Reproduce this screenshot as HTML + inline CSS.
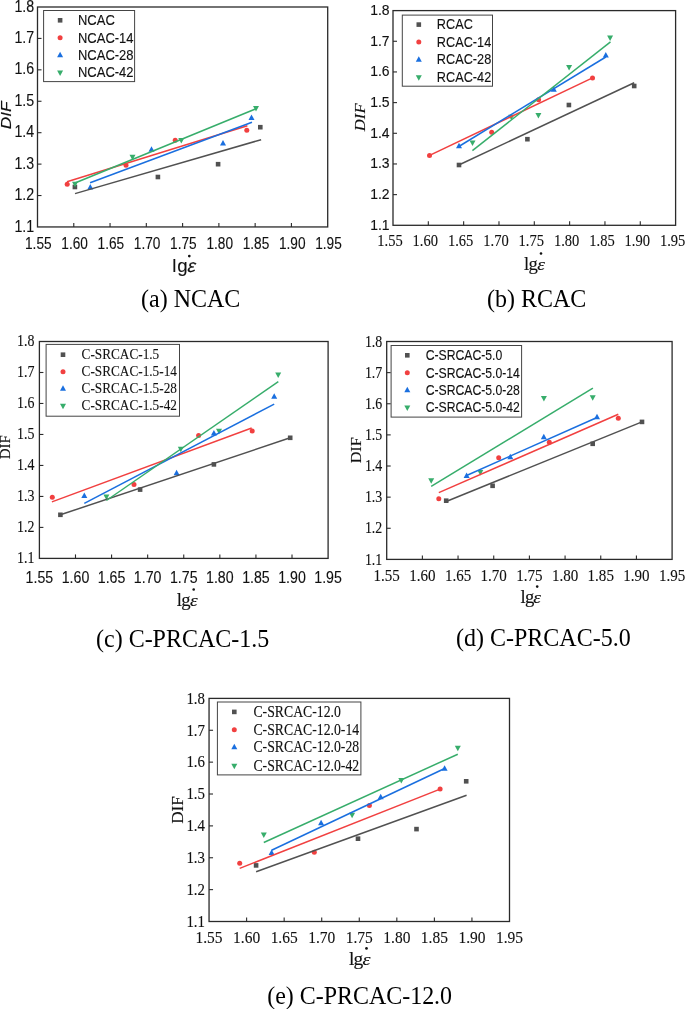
<!DOCTYPE html>
<html><head><meta charset="utf-8"><style>
html,body{margin:0;padding:0;background:#fff;}
svg{display:block;filter:blur(0.3px);}
text{fill:#111;stroke:#111;stroke-width:0.12px;}
text.cap{stroke:none;fill:#000;}
</style></head><body>
<svg width="685" height="1009" viewBox="0 0 685 1009">
<rect width="685" height="1009" fill="#fff"/>
<rect x="72.60" y="184.70" width="4.60" height="4.60" fill="#515151"/>
<rect x="155.60" y="174.70" width="4.60" height="4.60" fill="#515151"/>
<rect x="215.80" y="161.90" width="4.60" height="4.60" fill="#515151"/>
<rect x="258.00" y="124.90" width="4.60" height="4.60" fill="#515151"/>
<circle cx="67.20" cy="184.20" r="2.50" fill="#F14040"/>
<circle cx="126.00" cy="165.20" r="2.50" fill="#F14040"/>
<circle cx="175.20" cy="140.20" r="2.50" fill="#F14040"/>
<circle cx="246.80" cy="130.30" r="2.50" fill="#F14040"/>
<path d="M87.30 189.55L93.30 189.55L90.30 184.05Z" fill="#1A6FDF"/>
<path d="M148.50 151.65L154.50 151.65L151.50 146.15Z" fill="#1A6FDF"/>
<path d="M220.00 145.45L226.00 145.45L223.00 139.95Z" fill="#1A6FDF"/>
<path d="M248.50 119.95L254.50 119.95L251.50 114.45Z" fill="#1A6FDF"/>
<path d="M72.00 181.75L78.00 181.75L75.00 187.25Z" fill="#37AD6B"/>
<path d="M129.50 154.75L135.50 154.75L132.50 160.25Z" fill="#37AD6B"/>
<path d="M178.30 137.95L184.30 137.95L181.30 143.45Z" fill="#37AD6B"/>
<path d="M253.00 106.05L259.00 106.05L256.00 111.55Z" fill="#37AD6B"/>
<line x1="75" y1="193.6" x2="261.1" y2="139.7" stroke="#515151" stroke-width="1.5"/>
<line x1="67" y1="181.7" x2="247.4" y2="125.8" stroke="#F14040" stroke-width="1.5"/>
<line x1="90.1" y1="182.8" x2="252" y2="122.3" stroke="#1A6FDF" stroke-width="1.5"/>
<line x1="75" y1="183" x2="256" y2="108.8" stroke="#37AD6B" stroke-width="1.5"/>
<rect x="37.5" y="7.0" width="290.20" height="219.95" fill="none" stroke="#2a2a2a" stroke-width="1.3"/>
<line x1="73.78" y1="226.95" x2="73.78" y2="222.95" stroke="#2a2a2a" stroke-width="1.1"/>
<line x1="110.05" y1="226.95" x2="110.05" y2="222.95" stroke="#2a2a2a" stroke-width="1.1"/>
<line x1="146.32" y1="226.95" x2="146.32" y2="222.95" stroke="#2a2a2a" stroke-width="1.1"/>
<line x1="182.60" y1="226.95" x2="182.60" y2="222.95" stroke="#2a2a2a" stroke-width="1.1"/>
<line x1="218.88" y1="226.95" x2="218.88" y2="222.95" stroke="#2a2a2a" stroke-width="1.1"/>
<line x1="255.15" y1="226.95" x2="255.15" y2="222.95" stroke="#2a2a2a" stroke-width="1.1"/>
<line x1="291.42" y1="226.95" x2="291.42" y2="222.95" stroke="#2a2a2a" stroke-width="1.1"/>
<line x1="37.5" y1="195.53" x2="41.5" y2="195.53" stroke="#2a2a2a" stroke-width="1.1"/>
<line x1="37.5" y1="164.11" x2="41.5" y2="164.11" stroke="#2a2a2a" stroke-width="1.1"/>
<line x1="37.5" y1="132.69" x2="41.5" y2="132.69" stroke="#2a2a2a" stroke-width="1.1"/>
<line x1="37.5" y1="101.26" x2="41.5" y2="101.26" stroke="#2a2a2a" stroke-width="1.1"/>
<line x1="37.5" y1="69.84" x2="41.5" y2="69.84" stroke="#2a2a2a" stroke-width="1.1"/>
<line x1="37.5" y1="38.42" x2="41.5" y2="38.42" stroke="#2a2a2a" stroke-width="1.1"/>
<text transform="translate(34.20,231.55) scale(0.9,1)" font-family='"Liberation Sans", sans-serif' font-size="15.8" text-anchor="end">1.1</text>
<text transform="translate(34.20,200.13) scale(0.9,1)" font-family='"Liberation Sans", sans-serif' font-size="15.8" text-anchor="end">1.2</text>
<text transform="translate(34.20,168.71) scale(0.9,1)" font-family='"Liberation Sans", sans-serif' font-size="15.8" text-anchor="end">1.3</text>
<text transform="translate(34.20,137.29) scale(0.9,1)" font-family='"Liberation Sans", sans-serif' font-size="15.8" text-anchor="end">1.4</text>
<text transform="translate(34.20,105.86) scale(0.9,1)" font-family='"Liberation Sans", sans-serif' font-size="15.8" text-anchor="end">1.5</text>
<text transform="translate(34.20,74.44) scale(0.9,1)" font-family='"Liberation Sans", sans-serif' font-size="15.8" text-anchor="end">1.6</text>
<text transform="translate(34.20,43.02) scale(0.9,1)" font-family='"Liberation Sans", sans-serif' font-size="15.8" text-anchor="end">1.7</text>
<text transform="translate(34.20,11.60) scale(0.9,1)" font-family='"Liberation Sans", sans-serif' font-size="15.8" text-anchor="end">1.8</text>
<text transform="translate(38.30,249.10) scale(0.855,1)" font-family='"Liberation Sans", sans-serif' font-size="16" text-anchor="middle">1.55</text>
<text transform="translate(74.58,249.10) scale(0.855,1)" font-family='"Liberation Sans", sans-serif' font-size="16" text-anchor="middle">1.60</text>
<text transform="translate(110.85,249.10) scale(0.855,1)" font-family='"Liberation Sans", sans-serif' font-size="16" text-anchor="middle">1.65</text>
<text transform="translate(147.12,249.10) scale(0.855,1)" font-family='"Liberation Sans", sans-serif' font-size="16" text-anchor="middle">1.70</text>
<text transform="translate(183.40,249.10) scale(0.855,1)" font-family='"Liberation Sans", sans-serif' font-size="16" text-anchor="middle">1.75</text>
<text transform="translate(219.68,249.10) scale(0.855,1)" font-family='"Liberation Sans", sans-serif' font-size="16" text-anchor="middle">1.80</text>
<text transform="translate(255.95,249.10) scale(0.855,1)" font-family='"Liberation Sans", sans-serif' font-size="16" text-anchor="middle">1.85</text>
<text transform="translate(292.22,249.10) scale(0.855,1)" font-family='"Liberation Sans", sans-serif' font-size="16" text-anchor="middle">1.90</text>
<text transform="translate(328.50,249.10) scale(0.855,1)" font-family='"Liberation Sans", sans-serif' font-size="16" text-anchor="middle">1.95</text>
<rect x="43.6" y="10.5" width="91.00" height="71.10" fill="#fff" stroke="#444" stroke-width="1"/>
<rect x="57.80" y="18.00" width="4.60" height="4.60" fill="#515151"/>
<text transform="translate(78.00,25.00) scale(0.877,1)" font-family='"Liberation Sans", sans-serif' font-size="14.8" text-anchor="start">NCAC</text>
<circle cx="60.10" cy="37.80" r="2.50" fill="#F14040"/>
<text transform="translate(78.00,42.50) scale(0.877,1)" font-family='"Liberation Sans", sans-serif' font-size="14.8" text-anchor="start">NCAC-14</text>
<path d="M57.10 57.35L63.10 57.35L60.10 51.85Z" fill="#1A6FDF"/>
<text transform="translate(78.00,59.80) scale(0.877,1)" font-family='"Liberation Sans", sans-serif' font-size="14.8" text-anchor="start">NCAC-28</text>
<path d="M57.10 70.45L63.10 70.45L60.10 75.95Z" fill="#37AD6B"/>
<text transform="translate(78.00,77.10) scale(0.877,1)" font-family='"Liberation Sans", sans-serif' font-size="14.8" text-anchor="start">NCAC-42</text>
<text transform="translate(11.1,115.4) rotate(-90) scale(1.15,1)" font-family='"Liberation Sans", sans-serif' font-size="15" text-anchor="middle" font-style="italic">DIF</text>
<text transform="translate(172.2,271.6) scale(1,1)" font-family='"Liberation Sans", sans-serif' font-size="18.6" letter-spacing="1.0">lg</text>
<text transform="translate(186.5,271.6) skewX(-14) scale(1.05,1)" font-family='"Liberation Sans", sans-serif' font-size="18.2" font-style="normal">&#949;</text>
<circle cx="189.3" cy="256.1" r="1.35" fill="#111"/>
<text transform="translate(141.00,306.60) scale(0.96,1)" font-family='"Liberation Serif", serif' font-size="25" text-anchor="start" class="cap">(a) NCAC</text>
<rect x="456.70" y="162.70" width="4.60" height="4.60" fill="#515151"/>
<rect x="525.10" y="136.90" width="4.60" height="4.60" fill="#515151"/>
<rect x="566.60" y="102.70" width="4.60" height="4.60" fill="#515151"/>
<rect x="631.90" y="83.70" width="4.60" height="4.60" fill="#515151"/>
<circle cx="429.50" cy="155.40" r="2.50" fill="#F14040"/>
<circle cx="491.70" cy="132.20" r="2.50" fill="#F14040"/>
<circle cx="538.60" cy="99.80" r="2.50" fill="#F14040"/>
<circle cx="592.50" cy="77.90" r="2.50" fill="#F14040"/>
<path d="M456.00 148.35L462.00 148.35L459.00 142.85Z" fill="#1A6FDF"/>
<path d="M550.80 91.75L556.80 91.75L553.80 86.25Z" fill="#1A6FDF"/>
<path d="M602.80 57.55L608.80 57.55L605.80 52.05Z" fill="#1A6FDF"/>
<path d="M469.50 140.55L475.50 140.55L472.50 146.05Z" fill="#37AD6B"/>
<path d="M508.30 114.75L514.30 114.75L511.30 120.25Z" fill="#37AD6B"/>
<path d="M535.40 112.95L541.40 112.95L538.40 118.45Z" fill="#37AD6B"/>
<path d="M566.10 65.05L572.10 65.05L569.10 70.55Z" fill="#37AD6B"/>
<path d="M607.10 35.55L613.10 35.55L610.10 41.05Z" fill="#37AD6B"/>
<line x1="458.8" y1="165" x2="634.2" y2="82.8" stroke="#515151" stroke-width="1.5"/>
<line x1="429.6" y1="155.4" x2="592.5" y2="77.9" stroke="#F14040" stroke-width="1.5"/>
<line x1="458.8" y1="146.5" x2="605.8" y2="57" stroke="#1A6FDF" stroke-width="1.5"/>
<line x1="472.4" y1="150.6" x2="610.5" y2="41.9" stroke="#37AD6B" stroke-width="1.5"/>
<rect x="393.0" y="10.6" width="282.60" height="214.70" fill="none" stroke="#2a2a2a" stroke-width="1.3"/>
<line x1="428.32" y1="225.3" x2="428.32" y2="221.3" stroke="#2a2a2a" stroke-width="1.1"/>
<line x1="463.65" y1="225.3" x2="463.65" y2="221.3" stroke="#2a2a2a" stroke-width="1.1"/>
<line x1="498.98" y1="225.3" x2="498.98" y2="221.3" stroke="#2a2a2a" stroke-width="1.1"/>
<line x1="534.30" y1="225.3" x2="534.30" y2="221.3" stroke="#2a2a2a" stroke-width="1.1"/>
<line x1="569.62" y1="225.3" x2="569.62" y2="221.3" stroke="#2a2a2a" stroke-width="1.1"/>
<line x1="604.95" y1="225.3" x2="604.95" y2="221.3" stroke="#2a2a2a" stroke-width="1.1"/>
<line x1="640.28" y1="225.3" x2="640.28" y2="221.3" stroke="#2a2a2a" stroke-width="1.1"/>
<line x1="393.0" y1="194.63" x2="397.0" y2="194.63" stroke="#2a2a2a" stroke-width="1.1"/>
<line x1="393.0" y1="163.96" x2="397.0" y2="163.96" stroke="#2a2a2a" stroke-width="1.1"/>
<line x1="393.0" y1="133.29" x2="397.0" y2="133.29" stroke="#2a2a2a" stroke-width="1.1"/>
<line x1="393.0" y1="102.61" x2="397.0" y2="102.61" stroke="#2a2a2a" stroke-width="1.1"/>
<line x1="393.0" y1="71.94" x2="397.0" y2="71.94" stroke="#2a2a2a" stroke-width="1.1"/>
<line x1="393.0" y1="41.27" x2="397.0" y2="41.27" stroke="#2a2a2a" stroke-width="1.1"/>
<text transform="translate(389.60,229.80) scale(0.9,1)" font-family='"Liberation Sans", sans-serif' font-size="15.5" text-anchor="end">1.1</text>
<text transform="translate(389.60,199.13) scale(0.9,1)" font-family='"Liberation Sans", sans-serif' font-size="15.5" text-anchor="end">1.2</text>
<text transform="translate(389.60,168.46) scale(0.9,1)" font-family='"Liberation Sans", sans-serif' font-size="15.5" text-anchor="end">1.3</text>
<text transform="translate(389.60,137.79) scale(0.9,1)" font-family='"Liberation Sans", sans-serif' font-size="15.5" text-anchor="end">1.4</text>
<text transform="translate(389.60,107.11) scale(0.9,1)" font-family='"Liberation Sans", sans-serif' font-size="15.5" text-anchor="end">1.5</text>
<text transform="translate(389.60,76.44) scale(0.9,1)" font-family='"Liberation Sans", sans-serif' font-size="15.5" text-anchor="end">1.6</text>
<text transform="translate(389.60,45.77) scale(0.9,1)" font-family='"Liberation Sans", sans-serif' font-size="15.5" text-anchor="end">1.7</text>
<text transform="translate(389.60,15.10) scale(0.9,1)" font-family='"Liberation Sans", sans-serif' font-size="15.5" text-anchor="end">1.8</text>
<text transform="translate(390.00,245.90) scale(0.86,1)" font-family='"Liberation Serif", serif' font-size="16.9" text-anchor="middle">1.55</text>
<text transform="translate(425.32,245.90) scale(0.86,1)" font-family='"Liberation Serif", serif' font-size="16.9" text-anchor="middle">1.60</text>
<text transform="translate(460.65,245.90) scale(0.86,1)" font-family='"Liberation Serif", serif' font-size="16.9" text-anchor="middle">1.65</text>
<text transform="translate(495.98,245.90) scale(0.86,1)" font-family='"Liberation Serif", serif' font-size="16.9" text-anchor="middle">1.70</text>
<text transform="translate(531.30,245.90) scale(0.86,1)" font-family='"Liberation Serif", serif' font-size="16.9" text-anchor="middle">1.75</text>
<text transform="translate(566.62,245.90) scale(0.86,1)" font-family='"Liberation Serif", serif' font-size="16.9" text-anchor="middle">1.80</text>
<text transform="translate(601.95,245.90) scale(0.86,1)" font-family='"Liberation Serif", serif' font-size="16.9" text-anchor="middle">1.85</text>
<text transform="translate(637.28,245.90) scale(0.86,1)" font-family='"Liberation Serif", serif' font-size="16.9" text-anchor="middle">1.90</text>
<text transform="translate(672.60,245.90) scale(0.86,1)" font-family='"Liberation Serif", serif' font-size="16.9" text-anchor="middle">1.95</text>
<rect x="402.3" y="15.1" width="90.20" height="71.10" fill="#fff" stroke="#444" stroke-width="1"/>
<rect x="416.50" y="22.30" width="4.60" height="4.60" fill="#515151"/>
<text transform="translate(436.80,29.30) scale(0.86,1)" font-family='"Liberation Sans", sans-serif' font-size="14.8" text-anchor="start">RCAC</text>
<circle cx="418.80" cy="42.10" r="2.50" fill="#F14040"/>
<text transform="translate(436.80,46.80) scale(0.86,1)" font-family='"Liberation Sans", sans-serif' font-size="14.8" text-anchor="start">RCAC-14</text>
<path d="M415.80 61.85L421.80 61.85L418.80 56.35Z" fill="#1A6FDF"/>
<text transform="translate(436.80,64.30) scale(0.86,1)" font-family='"Liberation Sans", sans-serif' font-size="14.8" text-anchor="start">RCAC-28</text>
<path d="M415.80 75.25L421.80 75.25L418.80 80.75Z" fill="#37AD6B"/>
<text transform="translate(436.80,81.90) scale(0.86,1)" font-family='"Liberation Sans", sans-serif' font-size="14.8" text-anchor="start">RCAC-42</text>
<text transform="translate(365.0,117.3) rotate(-90) scale(1.11,1)" font-family='"Liberation Serif", serif' font-size="15" text-anchor="middle" font-style="italic">DIF</text>
<text transform="translate(524.1,270.4) scale(1,1)" font-family='"Liberation Serif", serif' font-size="18.7" letter-spacing="-0.7">lg</text>
<text transform="translate(537.3,270.4) skewX(0) scale(1.2,1)" font-family='"Liberation Serif", serif' font-size="16.3" font-style="italic">&#949;</text>
<circle cx="541.0" cy="253.5" r="1.3" fill="#111"/>
<text transform="translate(487.00,306.70) scale(0.96,1)" font-family='"Liberation Serif", serif' font-size="25" text-anchor="start" class="cap">(b) RCAC</text>
<rect x="58.10" y="512.50" width="4.60" height="4.60" fill="#515151"/>
<rect x="137.80" y="487.30" width="4.60" height="4.60" fill="#515151"/>
<rect x="211.60" y="462.10" width="4.60" height="4.60" fill="#515151"/>
<rect x="287.90" y="435.50" width="4.60" height="4.60" fill="#515151"/>
<circle cx="52.30" cy="497.20" r="2.50" fill="#F14040"/>
<circle cx="134.00" cy="484.50" r="2.50" fill="#F14040"/>
<circle cx="198.60" cy="435.60" r="2.50" fill="#F14040"/>
<circle cx="252.20" cy="431.10" r="2.50" fill="#F14040"/>
<path d="M81.30 497.95L87.30 497.95L84.30 492.45Z" fill="#1A6FDF"/>
<path d="M173.60 475.35L179.60 475.35L176.60 469.85Z" fill="#1A6FDF"/>
<path d="M210.90 435.45L216.90 435.45L213.90 429.95Z" fill="#1A6FDF"/>
<path d="M271.20 398.65L277.20 398.65L274.20 393.15Z" fill="#1A6FDF"/>
<path d="M103.40 494.45L109.40 494.45L106.40 499.95Z" fill="#37AD6B"/>
<path d="M177.80 446.75L183.80 446.75L180.80 452.25Z" fill="#37AD6B"/>
<path d="M216.00 428.75L222.00 428.75L219.00 434.25Z" fill="#37AD6B"/>
<path d="M275.20 372.45L281.20 372.45L278.20 377.95Z" fill="#37AD6B"/>
<line x1="60.4" y1="514.8" x2="290.2" y2="437.8" stroke="#515151" stroke-width="1.5"/>
<line x1="51.9" y1="501.9" x2="251.7" y2="428" stroke="#F14040" stroke-width="1.5"/>
<line x1="84.3" y1="503.3" x2="274.2" y2="404.1" stroke="#1A6FDF" stroke-width="1.5"/>
<line x1="106.4" y1="500.5" x2="278.3" y2="381.6" stroke="#37AD6B" stroke-width="1.5"/>
<rect x="39.4" y="341.5" width="288.70" height="216.90" fill="none" stroke="#2a2a2a" stroke-width="1.3"/>
<line x1="75.49" y1="558.4" x2="75.49" y2="554.4" stroke="#2a2a2a" stroke-width="1.1"/>
<line x1="111.58" y1="558.4" x2="111.58" y2="554.4" stroke="#2a2a2a" stroke-width="1.1"/>
<line x1="147.66" y1="558.4" x2="147.66" y2="554.4" stroke="#2a2a2a" stroke-width="1.1"/>
<line x1="183.75" y1="558.4" x2="183.75" y2="554.4" stroke="#2a2a2a" stroke-width="1.1"/>
<line x1="219.84" y1="558.4" x2="219.84" y2="554.4" stroke="#2a2a2a" stroke-width="1.1"/>
<line x1="255.93" y1="558.4" x2="255.93" y2="554.4" stroke="#2a2a2a" stroke-width="1.1"/>
<line x1="292.01" y1="558.4" x2="292.01" y2="554.4" stroke="#2a2a2a" stroke-width="1.1"/>
<line x1="39.4" y1="527.41" x2="43.4" y2="527.41" stroke="#2a2a2a" stroke-width="1.1"/>
<line x1="39.4" y1="496.43" x2="43.4" y2="496.43" stroke="#2a2a2a" stroke-width="1.1"/>
<line x1="39.4" y1="465.44" x2="43.4" y2="465.44" stroke="#2a2a2a" stroke-width="1.1"/>
<line x1="39.4" y1="434.46" x2="43.4" y2="434.46" stroke="#2a2a2a" stroke-width="1.1"/>
<line x1="39.4" y1="403.47" x2="43.4" y2="403.47" stroke="#2a2a2a" stroke-width="1.1"/>
<line x1="39.4" y1="372.49" x2="43.4" y2="372.49" stroke="#2a2a2a" stroke-width="1.1"/>
<text transform="translate(34.50,563.10) scale(0.86,1)" font-family='"Liberation Serif", serif' font-size="16.2" text-anchor="end">1.1</text>
<text transform="translate(34.50,532.11) scale(0.86,1)" font-family='"Liberation Serif", serif' font-size="16.2" text-anchor="end">1.2</text>
<text transform="translate(34.50,501.13) scale(0.86,1)" font-family='"Liberation Serif", serif' font-size="16.2" text-anchor="end">1.3</text>
<text transform="translate(34.50,470.14) scale(0.86,1)" font-family='"Liberation Serif", serif' font-size="16.2" text-anchor="end">1.4</text>
<text transform="translate(34.50,439.16) scale(0.86,1)" font-family='"Liberation Serif", serif' font-size="16.2" text-anchor="end">1.5</text>
<text transform="translate(34.50,408.17) scale(0.86,1)" font-family='"Liberation Serif", serif' font-size="16.2" text-anchor="end">1.6</text>
<text transform="translate(34.50,377.19) scale(0.86,1)" font-family='"Liberation Serif", serif' font-size="16.2" text-anchor="end">1.7</text>
<text transform="translate(34.50,346.20) scale(0.86,1)" font-family='"Liberation Serif", serif' font-size="16.2" text-anchor="end">1.8</text>
<text transform="translate(39.40,582.60) scale(0.86,1)" font-family='"Liberation Sans", sans-serif' font-size="16.5" text-anchor="middle">1.55</text>
<text transform="translate(75.49,582.60) scale(0.86,1)" font-family='"Liberation Sans", sans-serif' font-size="16.5" text-anchor="middle">1.60</text>
<text transform="translate(111.58,582.60) scale(0.86,1)" font-family='"Liberation Sans", sans-serif' font-size="16.5" text-anchor="middle">1.65</text>
<text transform="translate(147.66,582.60) scale(0.86,1)" font-family='"Liberation Sans", sans-serif' font-size="16.5" text-anchor="middle">1.70</text>
<text transform="translate(183.75,582.60) scale(0.86,1)" font-family='"Liberation Sans", sans-serif' font-size="16.5" text-anchor="middle">1.75</text>
<text transform="translate(219.84,582.60) scale(0.86,1)" font-family='"Liberation Sans", sans-serif' font-size="16.5" text-anchor="middle">1.80</text>
<text transform="translate(255.93,582.60) scale(0.86,1)" font-family='"Liberation Sans", sans-serif' font-size="16.5" text-anchor="middle">1.85</text>
<text transform="translate(292.01,582.60) scale(0.86,1)" font-family='"Liberation Sans", sans-serif' font-size="16.5" text-anchor="middle">1.90</text>
<text transform="translate(328.10,582.60) scale(0.86,1)" font-family='"Liberation Sans", sans-serif' font-size="16.5" text-anchor="middle">1.95</text>
<rect x="46.1" y="344.4" width="133.40" height="71.80" fill="#fff" stroke="#444" stroke-width="1"/>
<rect x="60.70" y="352.40" width="4.60" height="4.60" fill="#515151"/>
<text transform="translate(81.60,359.30) scale(0.86,1)" font-family='"Liberation Serif", serif' font-size="15.4" text-anchor="start">C-SRCAC-1.5</text>
<circle cx="63.00" cy="371.70" r="2.50" fill="#F14040"/>
<text transform="translate(81.60,376.30) scale(0.86,1)" font-family='"Liberation Serif", serif' font-size="15.4" text-anchor="start">C-SRCAC-1.5-14</text>
<path d="M60.00 390.85L66.00 390.85L63.00 385.35Z" fill="#1A6FDF"/>
<text transform="translate(81.60,393.20) scale(0.86,1)" font-family='"Liberation Serif", serif' font-size="15.4" text-anchor="start">C-SRCAC-1.5-28</text>
<path d="M60.00 403.75L66.00 403.75L63.00 409.25Z" fill="#37AD6B"/>
<text transform="translate(81.60,410.30) scale(0.86,1)" font-family='"Liberation Serif", serif' font-size="15.4" text-anchor="start">C-SRCAC-1.5-42</text>
<text transform="translate(9.5,447.2) rotate(-90) scale(1.0,1)" font-family='"Liberation Serif", serif' font-size="15" text-anchor="middle">DIF</text>
<text transform="translate(176.8,606.2) scale(1,1)" font-family='"Liberation Serif", serif' font-size="18.7" letter-spacing="-0.7">lg</text>
<text transform="translate(189.9,606.2) skewX(0) scale(1.2,1)" font-family='"Liberation Serif", serif' font-size="16.3" font-style="italic">&#949;</text>
<circle cx="193.7" cy="589.5" r="1.3" fill="#111"/>
<text transform="translate(96.00,646.70) scale(0.96,1)" font-family='"Liberation Serif", serif' font-size="25" text-anchor="start" class="cap">(c) C-PRCAC-1.5</text>
<rect x="443.90" y="498.40" width="4.60" height="4.60" fill="#515151"/>
<rect x="490.30" y="483.50" width="4.60" height="4.60" fill="#515151"/>
<rect x="590.40" y="441.50" width="4.60" height="4.60" fill="#515151"/>
<rect x="639.70" y="419.60" width="4.60" height="4.60" fill="#515151"/>
<circle cx="438.80" cy="498.70" r="2.50" fill="#F14040"/>
<circle cx="498.70" cy="457.80" r="2.50" fill="#F14040"/>
<circle cx="549.30" cy="442.20" r="2.50" fill="#F14040"/>
<circle cx="618.30" cy="418.20" r="2.50" fill="#F14040"/>
<path d="M463.60 477.95L469.60 477.95L466.60 472.45Z" fill="#1A6FDF"/>
<path d="M507.30 459.15L513.30 459.15L510.30 453.65Z" fill="#1A6FDF"/>
<path d="M540.80 439.25L546.80 439.25L543.80 433.75Z" fill="#1A6FDF"/>
<path d="M594.00 419.15L600.00 419.15L597.00 413.65Z" fill="#1A6FDF"/>
<path d="M428.20 478.15L434.20 478.15L431.20 483.65Z" fill="#37AD6B"/>
<path d="M477.30 469.95L483.30 469.95L480.30 475.45Z" fill="#37AD6B"/>
<path d="M540.90 396.05L546.90 396.05L543.90 401.55Z" fill="#37AD6B"/>
<path d="M589.70 395.25L595.70 395.25L592.70 400.75Z" fill="#37AD6B"/>
<line x1="446.2" y1="501.5" x2="642" y2="421.9" stroke="#515151" stroke-width="1.5"/>
<line x1="438.8" y1="492.6" x2="618.3" y2="414.3" stroke="#F14040" stroke-width="1.5"/>
<line x1="466.6" y1="475.5" x2="597" y2="417.5" stroke="#1A6FDF" stroke-width="1.5"/>
<line x1="431.2" y1="486.4" x2="592.9" y2="388.2" stroke="#37AD6B" stroke-width="1.5"/>
<rect x="386.7" y="341.5" width="285.40" height="217.90" fill="none" stroke="#2a2a2a" stroke-width="1.3"/>
<line x1="422.38" y1="559.4" x2="422.38" y2="555.4" stroke="#2a2a2a" stroke-width="1.1"/>
<line x1="458.05" y1="559.4" x2="458.05" y2="555.4" stroke="#2a2a2a" stroke-width="1.1"/>
<line x1="493.73" y1="559.4" x2="493.73" y2="555.4" stroke="#2a2a2a" stroke-width="1.1"/>
<line x1="529.40" y1="559.4" x2="529.40" y2="555.4" stroke="#2a2a2a" stroke-width="1.1"/>
<line x1="565.08" y1="559.4" x2="565.08" y2="555.4" stroke="#2a2a2a" stroke-width="1.1"/>
<line x1="600.75" y1="559.4" x2="600.75" y2="555.4" stroke="#2a2a2a" stroke-width="1.1"/>
<line x1="636.42" y1="559.4" x2="636.42" y2="555.4" stroke="#2a2a2a" stroke-width="1.1"/>
<line x1="386.7" y1="528.27" x2="390.7" y2="528.27" stroke="#2a2a2a" stroke-width="1.1"/>
<line x1="386.7" y1="497.14" x2="390.7" y2="497.14" stroke="#2a2a2a" stroke-width="1.1"/>
<line x1="386.7" y1="466.01" x2="390.7" y2="466.01" stroke="#2a2a2a" stroke-width="1.1"/>
<line x1="386.7" y1="434.89" x2="390.7" y2="434.89" stroke="#2a2a2a" stroke-width="1.1"/>
<line x1="386.7" y1="403.76" x2="390.7" y2="403.76" stroke="#2a2a2a" stroke-width="1.1"/>
<line x1="386.7" y1="372.63" x2="390.7" y2="372.63" stroke="#2a2a2a" stroke-width="1.1"/>
<text transform="translate(382.30,564.60) scale(0.86,1)" font-family='"Liberation Serif", serif' font-size="16.2" text-anchor="end">1.1</text>
<text transform="translate(382.30,533.47) scale(0.86,1)" font-family='"Liberation Serif", serif' font-size="16.2" text-anchor="end">1.2</text>
<text transform="translate(382.30,502.34) scale(0.86,1)" font-family='"Liberation Serif", serif' font-size="16.2" text-anchor="end">1.3</text>
<text transform="translate(382.30,471.21) scale(0.86,1)" font-family='"Liberation Serif", serif' font-size="16.2" text-anchor="end">1.4</text>
<text transform="translate(382.30,440.09) scale(0.86,1)" font-family='"Liberation Serif", serif' font-size="16.2" text-anchor="end">1.5</text>
<text transform="translate(382.30,408.96) scale(0.86,1)" font-family='"Liberation Serif", serif' font-size="16.2" text-anchor="end">1.6</text>
<text transform="translate(382.30,377.83) scale(0.86,1)" font-family='"Liberation Serif", serif' font-size="16.2" text-anchor="end">1.7</text>
<text transform="translate(382.30,346.70) scale(0.86,1)" font-family='"Liberation Serif", serif' font-size="16.2" text-anchor="end">1.8</text>
<text transform="translate(386.70,581.00) scale(0.885,1)" font-family='"Liberation Serif", serif' font-size="17" text-anchor="middle">1.55</text>
<text transform="translate(422.38,581.00) scale(0.885,1)" font-family='"Liberation Serif", serif' font-size="17" text-anchor="middle">1.60</text>
<text transform="translate(458.05,581.00) scale(0.885,1)" font-family='"Liberation Serif", serif' font-size="17" text-anchor="middle">1.65</text>
<text transform="translate(493.73,581.00) scale(0.885,1)" font-family='"Liberation Serif", serif' font-size="17" text-anchor="middle">1.70</text>
<text transform="translate(529.40,581.00) scale(0.885,1)" font-family='"Liberation Serif", serif' font-size="17" text-anchor="middle">1.75</text>
<text transform="translate(565.08,581.00) scale(0.885,1)" font-family='"Liberation Serif", serif' font-size="17" text-anchor="middle">1.80</text>
<text transform="translate(600.75,581.00) scale(0.885,1)" font-family='"Liberation Serif", serif' font-size="17" text-anchor="middle">1.85</text>
<text transform="translate(636.42,581.00) scale(0.885,1)" font-family='"Liberation Serif", serif' font-size="17" text-anchor="middle">1.90</text>
<text transform="translate(672.10,581.00) scale(0.885,1)" font-family='"Liberation Serif", serif' font-size="17" text-anchor="middle">1.95</text>
<rect x="391.1" y="345.5" width="130.50" height="71.60" fill="#fff" stroke="#444" stroke-width="1"/>
<rect x="405.00" y="353.00" width="4.60" height="4.60" fill="#515151"/>
<text transform="translate(425.70,360.00) scale(0.825,1)" font-family='"Liberation Sans", sans-serif' font-size="14.8" text-anchor="start">C-SRCAC-5.0</text>
<circle cx="407.30" cy="372.80" r="2.50" fill="#F14040"/>
<text transform="translate(425.70,377.50) scale(0.825,1)" font-family='"Liberation Sans", sans-serif' font-size="14.8" text-anchor="start">C-SRCAC-5.0-14</text>
<path d="M404.30 392.15L410.30 392.15L407.30 386.65Z" fill="#1A6FDF"/>
<text transform="translate(425.70,394.60) scale(0.825,1)" font-family='"Liberation Sans", sans-serif' font-size="14.8" text-anchor="start">C-SRCAC-5.0-28</text>
<path d="M404.30 405.45L410.30 405.45L407.30 410.95Z" fill="#37AD6B"/>
<text transform="translate(425.70,412.10) scale(0.825,1)" font-family='"Liberation Sans", sans-serif' font-size="14.8" text-anchor="start">C-SRCAC-5.0-42</text>
<text transform="translate(361.4,450.3) rotate(-90) scale(1.08,1)" font-family='"Liberation Serif", serif' font-size="15" text-anchor="middle">DIF</text>
<text transform="translate(520.6,603.3) scale(1,1)" font-family='"Liberation Serif", serif' font-size="18.7" letter-spacing="-0.7">lg</text>
<text transform="translate(533.3,603.3) skewX(0) scale(1.2,1)" font-family='"Liberation Serif", serif' font-size="16.3" font-style="italic">&#949;</text>
<circle cx="537.2" cy="586.6" r="1.3" fill="#111"/>
<text transform="translate(456.00,646.40) scale(0.96,1)" font-family='"Liberation Serif", serif' font-size="25" text-anchor="start" class="cap">(d) C-PRCAC-5.0</text>
<rect x="253.80" y="863.10" width="4.60" height="4.60" fill="#515151"/>
<rect x="355.70" y="836.40" width="4.60" height="4.60" fill="#515151"/>
<rect x="414.20" y="826.80" width="4.60" height="4.60" fill="#515151"/>
<rect x="463.90" y="779.00" width="4.60" height="4.60" fill="#515151"/>
<circle cx="239.70" cy="863.30" r="2.50" fill="#F14040"/>
<circle cx="314.30" cy="852.30" r="2.50" fill="#F14040"/>
<circle cx="369.40" cy="805.40" r="2.50" fill="#F14040"/>
<circle cx="440.10" cy="789.10" r="2.50" fill="#F14040"/>
<path d="M268.60 855.05L274.60 855.05L271.60 849.55Z" fill="#1A6FDF"/>
<path d="M318.10 825.25L324.10 825.25L321.10 819.75Z" fill="#1A6FDF"/>
<path d="M377.70 799.15L383.70 799.15L380.70 793.65Z" fill="#1A6FDF"/>
<path d="M441.60 770.65L447.60 770.65L444.60 765.15Z" fill="#1A6FDF"/>
<path d="M260.80 832.55L266.80 832.55L263.80 838.05Z" fill="#37AD6B"/>
<path d="M349.10 812.85L355.10 812.85L352.10 818.35Z" fill="#37AD6B"/>
<path d="M398.30 777.95L404.30 777.95L401.30 783.45Z" fill="#37AD6B"/>
<path d="M454.80 745.65L460.80 745.65L457.80 751.15Z" fill="#37AD6B"/>
<line x1="256.1" y1="871.7" x2="466.6" y2="795.2" stroke="#515151" stroke-width="1.5"/>
<line x1="239.7" y1="868.4" x2="440.1" y2="789.1" stroke="#F14040" stroke-width="1.5"/>
<line x1="271.6" y1="850.2" x2="444.6" y2="768.5" stroke="#1A6FDF" stroke-width="1.5"/>
<line x1="263.8" y1="842.5" x2="457.8" y2="754.2" stroke="#37AD6B" stroke-width="1.5"/>
<rect x="209.05" y="698.4" width="300.45" height="223.10" fill="none" stroke="#2a2a2a" stroke-width="1.3"/>
<line x1="246.61" y1="921.5" x2="246.61" y2="917.5" stroke="#2a2a2a" stroke-width="1.1"/>
<line x1="284.16" y1="921.5" x2="284.16" y2="917.5" stroke="#2a2a2a" stroke-width="1.1"/>
<line x1="321.72" y1="921.5" x2="321.72" y2="917.5" stroke="#2a2a2a" stroke-width="1.1"/>
<line x1="359.27" y1="921.5" x2="359.27" y2="917.5" stroke="#2a2a2a" stroke-width="1.1"/>
<line x1="396.83" y1="921.5" x2="396.83" y2="917.5" stroke="#2a2a2a" stroke-width="1.1"/>
<line x1="434.39" y1="921.5" x2="434.39" y2="917.5" stroke="#2a2a2a" stroke-width="1.1"/>
<line x1="471.94" y1="921.5" x2="471.94" y2="917.5" stroke="#2a2a2a" stroke-width="1.1"/>
<line x1="209.05" y1="889.63" x2="213.05" y2="889.63" stroke="#2a2a2a" stroke-width="1.1"/>
<line x1="209.05" y1="857.76" x2="213.05" y2="857.76" stroke="#2a2a2a" stroke-width="1.1"/>
<line x1="209.05" y1="825.89" x2="213.05" y2="825.89" stroke="#2a2a2a" stroke-width="1.1"/>
<line x1="209.05" y1="794.01" x2="213.05" y2="794.01" stroke="#2a2a2a" stroke-width="1.1"/>
<line x1="209.05" y1="762.14" x2="213.05" y2="762.14" stroke="#2a2a2a" stroke-width="1.1"/>
<line x1="209.05" y1="730.27" x2="213.05" y2="730.27" stroke="#2a2a2a" stroke-width="1.1"/>
<text transform="translate(205.00,926.80) scale(0.93,1)" font-family='"Liberation Serif", serif' font-size="16" text-anchor="end">1.1</text>
<text transform="translate(205.00,894.93) scale(0.93,1)" font-family='"Liberation Serif", serif' font-size="16" text-anchor="end">1.2</text>
<text transform="translate(205.00,863.06) scale(0.93,1)" font-family='"Liberation Serif", serif' font-size="16" text-anchor="end">1.3</text>
<text transform="translate(205.00,831.19) scale(0.93,1)" font-family='"Liberation Serif", serif' font-size="16" text-anchor="end">1.4</text>
<text transform="translate(205.00,799.31) scale(0.93,1)" font-family='"Liberation Serif", serif' font-size="16" text-anchor="end">1.5</text>
<text transform="translate(205.00,767.44) scale(0.93,1)" font-family='"Liberation Serif", serif' font-size="16" text-anchor="end">1.6</text>
<text transform="translate(205.00,735.57) scale(0.93,1)" font-family='"Liberation Serif", serif' font-size="16" text-anchor="end">1.7</text>
<text transform="translate(205.00,703.70) scale(0.93,1)" font-family='"Liberation Serif", serif' font-size="16" text-anchor="end">1.8</text>
<text transform="translate(209.05,943.40) scale(0.95,1)" font-family='"Liberation Serif", serif' font-size="16.3" text-anchor="middle">1.55</text>
<text transform="translate(246.61,943.40) scale(0.95,1)" font-family='"Liberation Serif", serif' font-size="16.3" text-anchor="middle">1.60</text>
<text transform="translate(284.16,943.40) scale(0.95,1)" font-family='"Liberation Serif", serif' font-size="16.3" text-anchor="middle">1.65</text>
<text transform="translate(321.72,943.40) scale(0.95,1)" font-family='"Liberation Serif", serif' font-size="16.3" text-anchor="middle">1.70</text>
<text transform="translate(359.27,943.40) scale(0.95,1)" font-family='"Liberation Serif", serif' font-size="16.3" text-anchor="middle">1.75</text>
<text transform="translate(396.83,943.40) scale(0.95,1)" font-family='"Liberation Serif", serif' font-size="16.3" text-anchor="middle">1.80</text>
<text transform="translate(434.39,943.40) scale(0.95,1)" font-family='"Liberation Serif", serif' font-size="16.3" text-anchor="middle">1.85</text>
<text transform="translate(471.94,943.40) scale(0.95,1)" font-family='"Liberation Serif", serif' font-size="16.3" text-anchor="middle">1.90</text>
<text transform="translate(509.50,943.40) scale(0.95,1)" font-family='"Liberation Serif", serif' font-size="16.3" text-anchor="middle">1.95</text>
<rect x="217.4" y="702" width="143.50" height="72.90" fill="#fff" stroke="#444" stroke-width="1"/>
<rect x="232.00" y="709.60" width="4.60" height="4.60" fill="#515151"/>
<text transform="translate(253.40,716.70) scale(0.86,1)" font-family='"Liberation Serif", serif' font-size="16" text-anchor="start">C-SRCAC-12.0</text>
<circle cx="234.30" cy="729.70" r="2.50" fill="#F14040"/>
<text transform="translate(253.40,734.50) scale(0.86,1)" font-family='"Liberation Serif", serif' font-size="16" text-anchor="start">C-SRCAC-12.0-14</text>
<path d="M231.30 749.35L237.30 749.35L234.30 743.85Z" fill="#1A6FDF"/>
<text transform="translate(253.40,751.90) scale(0.86,1)" font-family='"Liberation Serif", serif' font-size="16" text-anchor="start">C-SRCAC-12.0-28</text>
<path d="M231.30 763.75L237.30 763.75L234.30 769.25Z" fill="#37AD6B"/>
<text transform="translate(253.40,770.50) scale(0.86,1)" font-family='"Liberation Serif", serif' font-size="16" text-anchor="start">C-SRCAC-12.0-42</text>
<text transform="translate(183,810) rotate(-90) scale(1.07,1)" font-family='"Liberation Serif", serif' font-size="16" text-anchor="middle">DIF</text>
<text transform="translate(348.9,964.9) scale(1,1)" font-family='"Liberation Serif", serif' font-size="19.5" letter-spacing="-0.7">lg</text>
<text transform="translate(362.5,964.9) skewX(0) scale(1.2,1)" font-family='"Liberation Serif", serif' font-size="17" font-style="italic">&#949;</text>
<circle cx="366.5" cy="948.4" r="1.35" fill="#111"/>
<text transform="translate(267.20,1004.40) scale(0.99,1)" font-family='"Liberation Serif", serif' font-size="24.2" text-anchor="start" class="cap">(e) C-PRCAC-12.0</text>
</svg>
</body></html>
